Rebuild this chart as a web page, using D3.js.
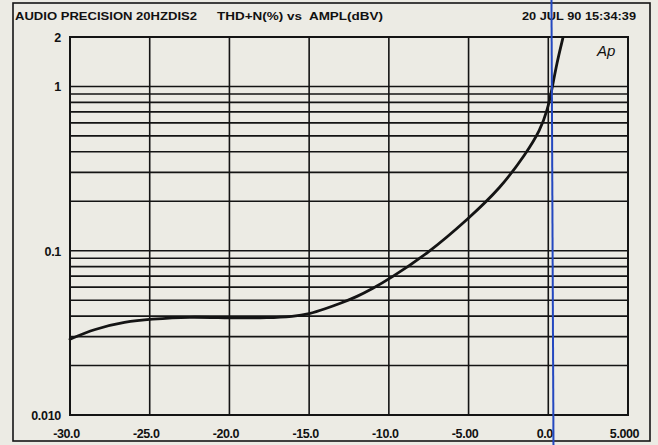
<!DOCTYPE html>
<html lang="en">
<head>
<meta charset="UTF-8">
<title>THD+N vs AMPL</title>
<style>
  body { margin: 0; padding: 0; background: #ecebe4; }
  svg text { font-family: "Liberation Sans", Arial, sans-serif; font-weight: bold; fill: #111; }
  svg text.logo { font-weight: normal; font-style: italic; }
</style>
</head>
<body>
<svg id="chart" width="658" height="445"></svg>
<script src="https://d3js.org/d3.v7.min.js"></script>
<script>
// measured sweep: amplitude (dBV) vs THD+N (%)
const amplDbv = [-30, -28.5, -26.5, -25, -22.5, -20, -17.5, -16, -15, -14, -13, -12, -11, -10, -7.5, -5, -3, -1.4, -0.5, -0.05, 0.22, 0.53, 0.91];
const thdPct  = [0.0289, 0.0334, 0.037, 0.0383, 0.0397, 0.0389, 0.039, 0.0398, 0.0412, 0.0443, 0.048, 0.0525, 0.059, 0.067, 0.097, 0.157, 0.24, 0.39, 0.543, 0.72, 0.95, 1.38, 1.96];

const xTicks = [-30, -25, -20, -15, -10, -5, 0, 5];
const xTickLabels = ["-30.0", "-25.0", "-20.0", "-15.0", "-10.0", "-5.00", "0.0", "5.000"];
const yLabelVals = [2, 1, 0.1, 0.01];
const yLabelText = ["2", "1", "0.1", "0.010"];
const yGridVals = [0.02, 0.03, 0.04, 0.05, 0.06, 0.07, 0.08, 0.09, 0.1, 0.2, 0.3, 0.4, 0.5, 0.6, 0.7, 0.8, 0.9, 1];
const cursorDbv = [0.2];

const titleLeft = "AUDIO PRECISION 20HZDIS2";
const titleMid = "THD+N(%) vs  AMPL(dBV)";
const titleDate = "20 JUL 90 15:34:39";

const svg = d3.select("#chart");
const ink = "#141414";

const x = d3.scaleLinear().domain([-30, 5]).range([70, 628]);
const y = d3.scaleLog().domain([0.01, 2]).range([415, 37]);

// outer frame
svg.append("rect")
  .attr("x", 13).attr("y", 3).attr("width", 637).attr("height", 438)
  .attr("fill", "none").attr("stroke", ink).attr("stroke-width", 1.6);

// title row
svg.append("text").attr("x", 15).attr("y", 20)
  .attr("font-size", 11).attr("textLength", 182).attr("lengthAdjust", "spacingAndGlyphs")
  .text(titleLeft);
svg.append("text").attr("x", 217).attr("y", 20)
  .attr("font-size", 11).attr("textLength", 166).attr("lengthAdjust", "spacingAndGlyphs")
  .attr("xml:space", "preserve")
  .text(titleMid);
svg.append("text").attr("x", 522).attr("y", 20)
  .attr("font-size", 11).attr("textLength", 114).attr("lengthAdjust", "spacingAndGlyphs")
  .text(titleDate);

const g = svg.append("g");

// horizontal grid
g.selectAll(".hgrid").data(yGridVals).enter().append("line")
  .attr("x1", x(-30)).attr("x2", x(5))
  .attr("y1", d => y(d)).attr("y2", d => y(d))
  .attr("stroke", ink).attr("stroke-width", 1.6);

// vertical grid
g.selectAll(".vgrid").data(xTicks.slice(1, -1)).enter().append("line")
  .attr("x1", d => x(d)).attr("x2", d => x(d))
  .attr("y1", y(2)).attr("y2", y(0.01))
  .attr("stroke", ink).attr("stroke-width", 1.6);

// plot border
g.append("rect")
  .attr("x", x(-30)).attr("y", y(2))
  .attr("width", x(5) - x(-30)).attr("height", y(0.01) - y(2))
  .attr("fill", "none").attr("stroke", ink).attr("stroke-width", 2);

// y labels
svg.selectAll(".ylab").data(yLabelVals).enter().append("text")
  .attr("x", 61).attr("y", d => y(d) + 5)
  .attr("text-anchor", "end").attr("font-size", 12.5)
  .attr("letter-spacing", -0.3)
  .text((d, i) => yLabelText[i]);

// x labels
svg.selectAll(".xlab").data(xTicks).enter().append("text")
  .attr("x", d => x(d) - 3.5).attr("y", 437.5)
  .attr("text-anchor", "middle").attr("font-size", 12.5)
  .attr("letter-spacing", -0.4)
  .text((d, i) => xTickLabels[i]);

// Ap logo
svg.append("text").attr("class", "logo")
  .attr("x", 597).attr("y", 56)
  .attr("font-size", 15)
  .text("Ap");

// THD+N curve
const pts = amplDbv.map((a, i) => [a, thdPct[i]]);
const line = d3.line()
  .x(d => x(d[0])).y(d => y(d[1]))
  .curve(d3.curveBasis);
svg.append("path").datum(pts)
  .attr("d", line)
  .attr("fill", "none").attr("stroke", ink).attr("stroke-width", 2.8)
  .attr("stroke-linecap", "round");

// blue cursor line
svg.selectAll(".cursor").data(cursorDbv).enter().append("line")
  .attr("x1", d => x(d)).attr("x2", d => x(d) + 2)
  .attr("y1", 0).attr("y2", 445)
  .attr("stroke", "#2448c0").attr("stroke-width", 2);
</script>
</body>
</html>
